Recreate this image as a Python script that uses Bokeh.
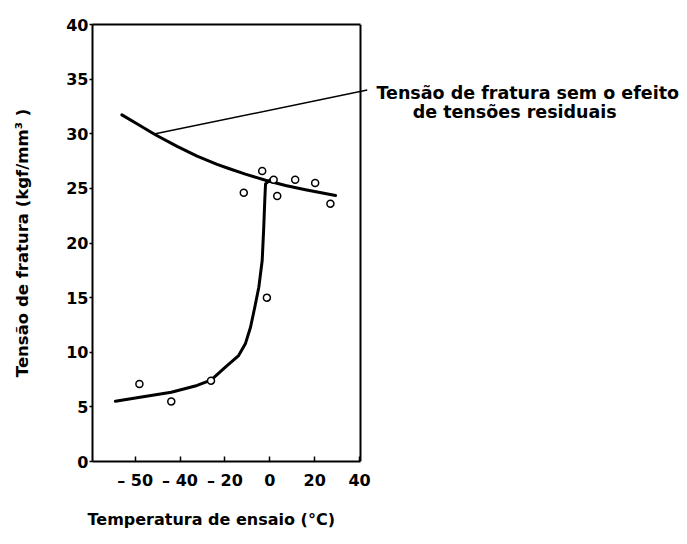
import math
from bokeh.plotting import figure
from bokeh.models import (Range1d, FixedTicker, Label, Arrow, LinearAxis, Span,
                          Title)
from bokeh.embed import file_html
from bokeh.resources import INLINE

# ---- data ----
x_ticks = [-60, -40, -20, 0, 20, 40]
x_tick_labels = ["– 50", "– 40", "– 20", "0", "20", "40"]
y_ticks = [0, 5, 10, 15, 20, 25, 30, 35, 40]
x_limits = (-79, 40.4)
y_limits = (0, 40)

point_temp = [-58.1, -43.9, -26.2, -1.3, -11.6, -3.4, 1.7, 3.3, 11.3, 20.2, 27.0]
point_stress = [7.1, 5.5, 7.4, 15.0, 24.6, 26.6, 25.8, 24.3, 25.8, 25.5, 23.6]

upper_temp = [-65.9, -59.2, -51.0, -41.3, -32.4, -23.5, -18.3, -10.9, -1.9, 7.0, 15.9, 29.3]
upper_stress = [31.73, 30.91, 29.91, 28.85, 27.95, 27.2, 26.82, 26.3, 25.74, 25.27, 24.88, 24.35]

lower_temp = [-68.8, -59.2, -43.9, -32.4, -26.2, -19.8, -13.9, -10.9, -8.6, -6.7,
              -4.9, -3.4, -2.7, -2.25, -1.9, 0.3]
lower_stress = [5.52, 5.83, 6.34, 6.96, 7.44, 8.63, 9.70, 10.77, 12.29, 14.12,
                15.95, 18.4, 21.45, 23.89, 25.42, 25.8]

leader_start = (-51.0, 30.0)
leader_end = (43.4, 34.0)

annotation_lines = ["Tensão de fratura sem o efeito", "de tensões residuais"]
x_title = "Temperatura de ensaio (°C)"
y_title = "Tensão de fratura (kgf/mm³ )"

FONT = "DejaVu Sans"

# ---- layout (pixels) ----
W, H = 684, 544
BL, BT, FH = 92, 24, 437
PX_PER_DEG = 268.0 / (x_limits[1] - x_limits[0])
frame_w = W - BL
x_max = x_limits[0] + frame_w / PX_PER_DEG   # frame extended to the right for the note

p = figure(width=W, height=H,
           x_range=Range1d(x_limits[0], x_max), y_range=Range1d(*y_limits),
           output_backend="svg", toolbar_location=None,
           min_border_left=BL, min_border_right=0,
           min_border_top=BT, min_border_bottom=H - BT - FH)

p.xgrid.visible = False
p.ygrid.visible = False
p.outline_line_color = None
p.background_fill_color = "white"
p.border_fill_color = "white"


def style_ticks(ax):
    ax.minor_tick_line_color = None
    ax.axis_line_width = 2
    ax.major_tick_line_width = 1.5
    ax.major_label_text_font = FONT
    ax.major_label_text_font_style = "bold"
    ax.major_label_text_font_size = "16px"
    ax.major_label_text_color = "black"


# x axis (bottom)
p.xaxis.bounds = x_limits
p.xaxis.ticker = FixedTicker(ticks=x_ticks)
p.xaxis.major_label_overrides = {t: s for t, s in zip(x_ticks, x_tick_labels)}
p.xaxis.major_tick_in = 5
p.xaxis.major_tick_out = 0
p.xaxis.major_label_standoff = 9
style_ticks(p.xaxis[0])

# y axis (left)
p.yaxis.bounds = y_limits
p.yaxis.ticker = FixedTicker(ticks=y_ticks)
p.yaxis.major_tick_in = 0
p.yaxis.major_tick_out = 3
p.yaxis.major_label_standoff = 1
style_ticks(p.yaxis[0])
p.yaxis.axis_label = y_title
p.yaxis.axis_label_standoff = 31
p.yaxis.axis_label_text_font = FONT
p.yaxis.axis_label_text_font_style = "bold"
p.yaxis.axis_label_text_font_size = "16.5px"
p.yaxis.axis_label_text_color = "black"

# x title (left-aligned under the plot box)
p.add_layout(Title(text=x_title, align="left", offset=-5, standoff=30,
                   text_font=FONT, text_font_style="bold",
                   text_font_size="16px", text_color="black"), "below")

# top spine (axis without ticks) and right spine
top_axis = LinearAxis(bounds=x_limits, ticker=FixedTicker(ticks=[]),
                      major_label_text_font_size="0px", axis_line_width=2,
                      major_tick_line_color=None, minor_tick_line_color=None)
p.add_layout(top_axis, "above")
p.add_layout(Span(location=x_limits[1], dimension="height",
                  line_color="black", line_width=2))

# curves
p.line(upper_temp, upper_stress, line_color="black", line_width=3,
       line_cap="round", line_join="round")
p.line(lower_temp, lower_stress, line_color="black", line_width=3,
       line_cap="round", line_join="round")

# measured points
p.scatter(point_temp, point_stress, marker="circle", size=7,
          fill_color="white", line_color="black", line_width=1.5)

# leader line to the note
p.add_layout(Arrow(end=None, x_start=leader_start[0], y_start=leader_start[1],
                   x_end=leader_end[0], y_end=leader_end[1],
                   line_color="black", line_width=1.5))

p.add_layout(Label(x=114.9, y=33.75, text=annotation_lines[0], text_align="center",
                   text_baseline="middle", text_font=FONT, text_font_style="bold",
                   text_font_size="17.5px", text_color="black"))
p.add_layout(Label(x=109.1, y=31.97, text=annotation_lines[1], text_align="center",
                   text_baseline="middle", text_font=FONT, text_font_style="bold",
                   text_font_size="17.5px", text_color="black"))

open("out.html", "w").write(file_html(p, INLINE))
